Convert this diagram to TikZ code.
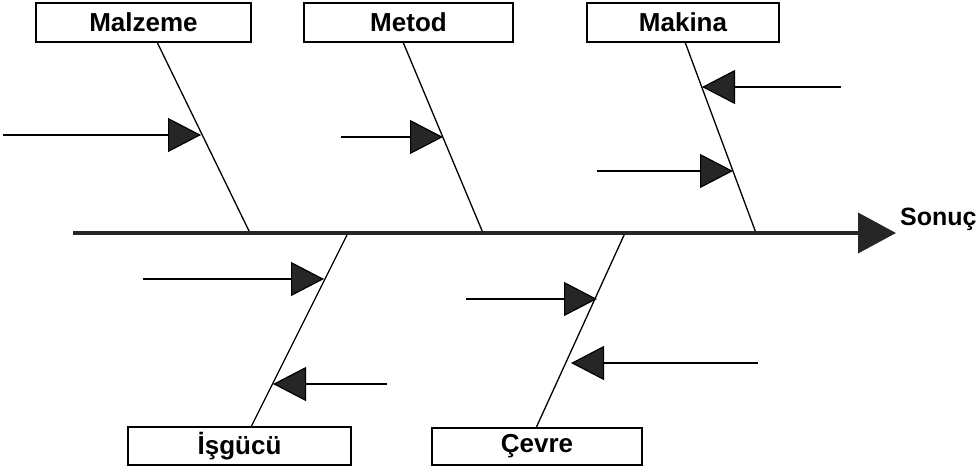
\documentclass[tikz,border=0pt]{standalone}
\usepackage{fontspec}
\setmainfont{Liberation Sans}
\usetikzlibrary{arrows.meta}
\begin{document}
\begin{tikzpicture}[x=1pt,y=-1pt,
  catbox/.style={draw=black,line width=1.3pt,fill=white,inner sep=0pt,
    font=\fontsize{26}{26}\selectfont\bfseries},
  bone/.style={draw=black,line width=1.3pt},
  cause/.style={draw=black,line width=1.2pt,
    -{Triangle[length=33pt,width=34pt,fill=black!85]}},
  spine/.style={draw=black!85,line width=4pt,
    -{Triangle[length=38pt,width=40pt,fill=black!85]}}]
\useasboundingbox (0,0) rectangle (977,472);
% category boxes
\node[catbox,minimum width=215pt,minimum height=39pt] (mal) at (143.5,22.5) {Malzeme};
\node[catbox,minimum width=209pt,minimum height=39pt] (met) at (408.5,22.5) {Metod};
\node[catbox,minimum width=192pt,minimum height=39pt] (mak) at (683,22.5) {Makina};
\node[catbox,minimum width=223pt,minimum height=38pt] (isg) at (239.5,446) {İşgücü};
\node[catbox,minimum width=210pt,minimum height=37pt] (cev) at (537,446.5) {Çevre};
% spine
\coordinate (s0) at (73,233);
\coordinate (s1) at (896,233);
\node[anchor=base west,inner sep=0pt,font=\fontsize{25}{25}\selectfont\bfseries] (son) at (900,225) {Sonuç};
% bone ends
\coordinate (b1t) at (157,42);  \coordinate (b1s) at (250,233);
\coordinate (b2t) at (403,42);  \coordinate (b2s) at (483,233);
\coordinate (b3t) at (685,42);  \coordinate (b3s) at (756,233);
\coordinate (b4s) at (348,233); \coordinate (b4b) at (251,427);
\coordinate (b5s) at (625,233); \coordinate (b5b) at (536,428);
\draw[bone] (b1t) -- (b1s);
\draw[bone] (b2t) -- (b2s);
\draw[bone] (b3t) -- (b3s);
\draw[bone] (b4s) -- (b4b);
\draw[bone] (b5s) -- (b5b);
\draw[spine] (s0) -- (s1);
% cause arrows
\coordinate (a1s) at (3,135);   \coordinate (a1t) at (201,135);
\coordinate (a2s) at (341,137); \coordinate (a2t) at (443,137);
\coordinate (a3s) at (841,87);  \coordinate (a3t) at (702,87);
\coordinate (a4s) at (597,171); \coordinate (a4t) at (733,171);
\coordinate (a5s) at (143,279); \coordinate (a5t) at (324,279);
\coordinate (a6s) at (387,384); \coordinate (a6t) at (273,384);
\coordinate (a7s) at (466,299); \coordinate (a7t) at (597,299);
\coordinate (a8s) at (758,363); \coordinate (a8t) at (571,363);
\draw[cause] (a1s) -- (a1t);
\draw[cause] (a2s) -- (a2t);
\draw[cause] (a3s) -- (a3t);
\draw[cause] (a4s) -- (a4t);
\draw[cause] (a5s) -- (a5t);
\draw[cause] (a6s) -- (a6t);
\draw[cause] (a7s) -- (a7t);
\draw[cause] (a8s) -- (a8t);
\end{tikzpicture}
\end{document}
